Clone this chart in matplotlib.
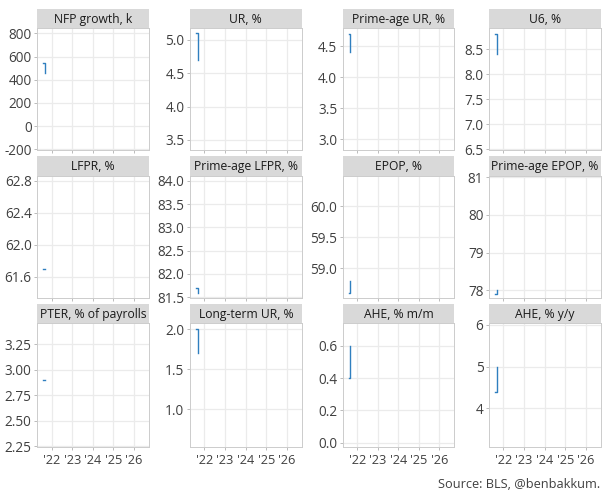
import matplotlib
matplotlib.use('Agg')
import matplotlib.pyplot as plt
import numpy as np

plt.rcParams['font.family'] = ['Open Sans', 'DejaVu Sans']

# monthly data (two releases), drawn as steps
dates = np.array(['2021-08-01', '2021-09-01'], dtype='datetime64[D]')

titles = ['NFP growth, k', 'UR, %', 'Prime-age UR, %', 'U6, %',
          'LFPR, %', 'Prime-age LFPR, %', 'EPOP, %', 'Prime-age EPOP, %',
          'PTER, % of payrolls', 'Long-term UR, %', 'AHE, % m/m', 'AHE, % y/y']

nfp = [545, 455]
ur = [5.1, 4.7]
prime_ur = [4.7, 4.4]
u6 = [8.8, 8.4]
lfpr = [61.7, 61.7]
prime_lfpr = [81.7, 81.6]
epop = [58.6, 58.8]
prime_epop = [77.9, 78.0]
pter = [2.9, 2.9]
lt_ur = [2.0, 1.7]
ahe_mm = [0.4, 0.6]
ahe_yy = [4.4, 5.0]
series = [nfp, ur, prime_ur, u6, lfpr, prime_lfpr, epop, prime_epop,
          pter, lt_ur, ahe_mm, ahe_yy]

# y axis limits and ticks per panel
ylims = [(-205, 843), (3.35, 5.175), (2.83, 4.785), (6.49, 8.92),
         (61.34, 62.86), (81.49, 84.11), (58.53, 60.49), (77.8, 81.04),
         (2.248, 3.455), (0.535, 2.075), (-0.023, 0.738), (3.08, 6.04)]
yticks = [[-200, 0, 200, 400, 600, 800], [3.5, 4.0, 4.5, 5.0],
          [3.0, 3.5, 4.0, 4.5], [6.5, 7.0, 7.5, 8.0, 8.5],
          [61.6, 62.0, 62.4, 62.8], [81.5, 82.0, 82.5, 83.0, 83.5, 84.0],
          [59.0, 59.5, 60.0], [78, 79, 80, 81],
          [2.25, 2.5, 2.75, 3.0, 3.25], [1.0, 1.5, 2.0],
          [0.0, 0.2, 0.4, 0.6], [4, 5, 6]]
yfmt = ['{:.0f}', '{:.1f}', '{:.1f}', '{:.1f}', '{:.1f}', '{:.1f}', '{:.1f}',
        '{:.0f}', '{:.2f}', '{:.1f}', '{:.1f}', '{:.0f}']

years = [2022, 2023, 2024, 2025, 2026]
year_labels = ["'22", "'23", "'24", "'25", "'26"]
xlim = (np.datetime64('2021-04-19'), np.datetime64('2026-09-24'))

W, H = 615, 500
fig = plt.figure(figsize=(W / 100, H / 100), dpi=100)

col_left = [37.3, 190, 342.7, 489]
panel_w = 111.7
row_top = [28.3, 175.7, 323.3]
row_bot = [150, 297.7, 446.5]
strip_h = 19.8

grid_col = '#ebebeb'
border_col = '#cccccc'
text_col = '#404040'

for i, title in enumerate(titles):
    r, c = divmod(i, 4)
    x0 = col_left[c]
    ax = fig.add_axes([x0 / W, 1 - row_bot[r] / H, panel_w / W,
                       (row_bot[r] - row_top[r]) / H])
    ax.step(dates, series[i], where='post', color='#2f7fbf', lw=1.0)
    ax.set_xlim(xlim)
    ax.set_ylim(ylims[i])
    ax.set_yticks(yticks[i])
    ax.set_yticklabels([yfmt[i].format(v) for v in yticks[i]])
    ax.set_xticks([np.datetime64(f'{y}-01-01') for y in years])
    if r == 2:
        ax.set_xticklabels(year_labels)
    else:
        ax.set_xticklabels([])
    ax.grid(True, color=grid_col, lw=0.9)
    ax.set_axisbelow(True)
    for s in ax.spines.values():
        s.set_color(border_col)
        s.set_linewidth(0.7)
    ax.tick_params(axis='both', length=2.2, width=0.7, color='#bbbbbb',
                   labelcolor=text_col, labelsize=9.8, pad=1.8)
    ax.tick_params(axis='x', pad=3.5, labelsize=9.2)

    # facet strip
    sx = fig.add_axes([x0 / W, 1 - row_top[r] / H, panel_w / W, strip_h / H])
    sx.set_facecolor('#d9d9d9')
    sx.set_xticks([])
    sx.set_yticks([])
    for s in sx.spines.values():
        s.set_visible(False)
    sx.text(0.5, 0.45, title, ha='center', va='center', fontsize=8.7,
            color='#1a1a1a', transform=sx.transAxes)

fig.text(600.5 / W, 1 - 484 / H, 'Source: BLS, @benbakkum.', ha='right',
         va='center', fontsize=9.2, color=text_col)

fig.savefig('out.png', dpi=100)
